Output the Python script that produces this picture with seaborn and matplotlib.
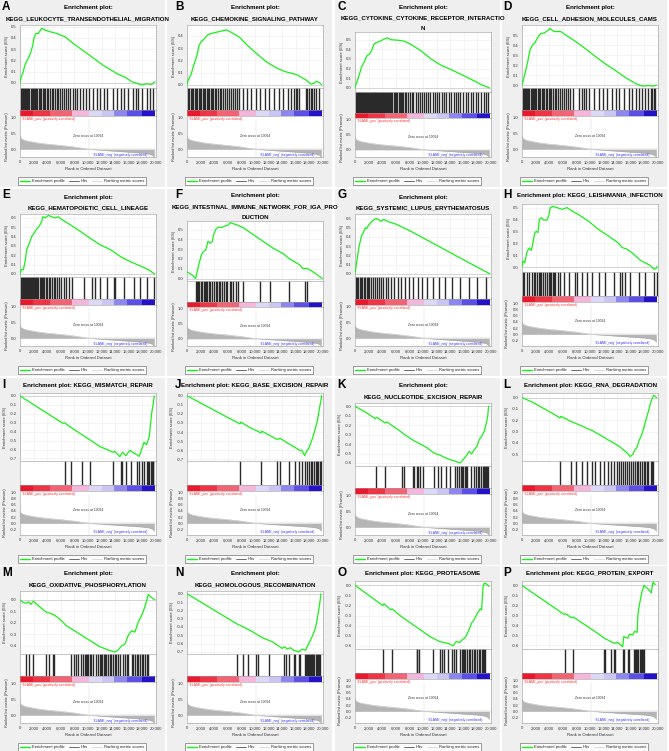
import matplotlib
matplotlib.use('Agg')
import matplotlib.pyplot as plt
from matplotlib.lines import Line2D
from matplotlib.patches import Rectangle
import seaborn as sns

sns.set_theme(style='white')
plt.rcParams['font.family'] = ['Liberation Sans', 'DejaVu Sans']

# ---------------- data (ranks in thousands) ----------------
X_TICKS = [0, 2, 4, 6, 8, 10, 12, 14, 16, 18, 20]
X_TICK_LABELS = ['0', '2,000', '4,000', '6,000', '8,000', '10,000', '12,000',
                 '14,000', '16,000', '18,000', '20,000']

RANK_K = [0, 0.05, 0.3, 0.8, 1.5, 2.5, 4, 6, 8, 10.094, 12, 14, 16, 18, 19, 19.5, 19.75]
RANK_METRIC = [0.42, 0.36, 0.31, 0.27, 0.24, 0.20, 0.16, 0.12, 0.07, 0.0, -0.03,
               -0.06, -0.09, -0.12, -0.15, -0.19, -0.26]
ZERO_CROSS_K = 10.094

BAND_EDGES_K = [0, 1.9, 4.4, 7.6, 10.2, 12.0, 13.8, 15.8, 18.0, 19.8]
BAND_COLORS = ['#e8192c', '#ee3545', '#f26474', '#f5b6dc', '#dcd9f6', '#c9c6f3',
               '#8c86ee', '#5a50e6', '#2412c8']

A_RANK = [0, 0.15, 0.39, 0.74, 1.23, 1.57, 1.86, 2.06, 2.35, 2.7, 3.19, 3.68, 4.41, 5.39,
          6.62, 7.84, 9.31, 10.78, 12.25, 13.48, 14.46, 15.44, 16.42, 17.15, 17.89, 18.62,
          19.36, 19.85]
A_ES = [0, 0.05, 0.08, 0.16, 0.22, 0.27, 0.33, 0.40, 0.44, 0.44, 0.485, 0.47, 0.455, 0.44,
        0.41, 0.35, 0.285, 0.22, 0.155, 0.11, 0.075, 0.05, 0.01, -0.005, -0.02, -0.01,
        -0.015, 0.01]
A_HITS = [0.1, 0.25, 0.39, 0.59, 0.74, 0.88, 1.08, 1.23, 1.37, 1.57, 1.76, 1.91, 2.06, 2.21,
          2.35, 2.55, 2.75, 2.94, 3.14, 3.33, 3.53, 3.73, 3.92, 4.17, 4.41, 4.66, 4.9, 5.15,
          5.39, 5.64, 5.88, 6.18, 6.47, 6.76, 7.06, 7.35, 7.75, 8.14, 8.43, 8.82, 9.22, 9.71,
          10.2, 10.69, 11.27, 11.76, 12.35, 12.84, 13.63, 14.22, 14.8, 15.29, 15.93, 16.67,
          17.06, 17.4, 17.89, 18.63, 19.12, 19.61]

B_RANK = [0, 0.2, 0.63, 0.88, 1.17, 1.46, 1.76, 2.05, 2.34, 2.73, 3.07, 3.56, 4.29, 5.02,
          5.76, 6.49, 7.71, 8.93, 10.15, 11.61, 13.07, 14.29, 15.27, 16.24, 17.46, 18.2,
          18.68, 19.02, 19.51, 19.8]
B_ES = [0, 0.04, 0.09, 0.14, 0.19, 0.24, 0.32, 0.35, 0.365, 0.39, 0.41, 0.42, 0.43, 0.44,
        0.45, 0.43, 0.39, 0.32, 0.26, 0.19, 0.14, 0.11, 0.095, 0.08, 0.04, 0.005, 0.012,
        0.028, 0.015, 0.0]
B_HITS = [0.15, 0.34, 0.54, 0.73, 0.93, 1.12, 1.32, 1.51, 1.71, 1.9, 2.1, 2.29, 2.49, 2.68,
          2.88, 3.07, 3.27, 3.46, 3.66, 3.85, 4.05, 4.29, 4.54, 4.78, 5.02, 5.27, 5.56, 5.85,
          6.15, 6.44, 6.73, 7.02, 7.32, 7.61, 8.2, 8.78, 9.41, 10.15, 10.73, 11.51, 12.1,
          12.83, 13.46, 14.15, 14.78, 15.27, 15.76, 16.0, 16.24, 16.49, 17.46, 17.71, 17.95,
          18.2, 18.44, 18.68, 18.93, 19.41]

C_RANK = [0, 0.15, 0.29, 0.64, 0.98, 1.37, 1.76, 2.11, 2.45, 2.75, 3.09, 3.58, 4.22, 4.8,
          5.29, 6.27, 7.25, 8.24, 9.71, 11.18, 12.65, 14.12, 15.59, 17.06, 18.53, 19.75]
C_ES = [0, 0.04, 0.06, 0.14, 0.22, 0.27, 0.335, 0.35, 0.385, 0.45, 0.47, 0.48, 0.505, 0.52,
        0.50, 0.495, 0.485, 0.45, 0.385, 0.30, 0.235, 0.19, 0.14, 0.09, 0.035, 0.0]
C_HITS = [0.1, 0.25, 0.4, 0.5, 0.65, 0.8, 0.95, 1.05, 1.2, 1.35, 1.5, 1.6, 1.75, 1.9, 2.05,
          2.2, 2.3, 2.45, 2.6, 2.75, 2.9, 3.0, 3.15, 3.3, 3.45, 3.6, 3.7, 3.85, 4.0, 4.15,
          4.3, 4.45, 4.6, 4.75, 4.9, 5.05, 5.2, 5.35, 5.5, 5.7, 5.85, 6.0, 6.2, 6.4, 6.55,
          6.7, 6.9, 7.1, 7.3, 7.5, 7.8, 8.1, 8.4, 8.6, 8.9, 9.2, 9.5, 9.9, 10.2, 10.5, 10.8,
          11.1, 11.4, 11.8, 12.1, 12.4, 12.8, 13.1, 13.4, 13.8, 14.1, 14.5, 14.8, 15.2, 15.5,
          15.9, 16.3, 16.6, 17.0, 17.4, 17.8, 18.1, 18.5, 18.9, 19.2, 19.5]

D_RANK = [0, 0.2, 0.49, 0.83, 1.17, 1.56, 1.95, 2.44, 2.78, 3.27, 3.9, 4.1, 4.7, 5.7, 6.4,
          7.9, 9.4, 10.8, 12.3, 13.75, 15.2, 16.7, 17.7, 18.6, 19.35, 19.8]
D_ES = [0, 0.05, 0.13, 0.23, 0.35, 0.40, 0.43, 0.49, 0.515, 0.52, 0.55, 0.565, 0.535, 0.535,
        0.50, 0.435, 0.36, 0.285, 0.21, 0.145, 0.075, 0.015, -0.01, -0.005, -0.01, 0.0]
D_HITS = [0.1, 0.3, 0.45, 0.6, 0.8, 0.95, 1.1, 1.3, 1.45, 1.6, 1.8, 1.95, 2.1, 2.3, 2.5, 2.7,
          2.9, 3.1, 3.3, 3.5, 3.7, 3.9, 4.1, 4.3, 4.55, 4.8, 5.0, 5.3, 5.6, 5.9, 6.2, 6.5,
          6.8, 7.1, 7.5, 8.4, 8.8, 9.1, 9.4, 9.85, 10.6, 11.3, 11.9, 12.5, 13.3, 13.8, 14.2,
          15.0, 15.7, 16.2, 16.7, 17.2, 17.7, 18.1, 18.5, 18.9, 19.1, 19.4, 19.6]

E_RANK = [0, 0.2, 0.5, 0.74, 0.99, 1.38, 1.72, 2.07, 2.46, 2.86, 3.2, 3.35, 3.69, 4.19,
          4.68, 5.17, 5.66, 6.16, 7.39, 8.87, 10.34, 11.82, 13.3, 14.78, 16.26, 17.73,
          18.96, 19.8]
E_ES = [0, 0.05, 0.045, 0.13, 0.26, 0.33, 0.40, 0.435, 0.48, 0.515, 0.56, 0.61, 0.60, 0.625,
        0.61, 0.60, 0.61, 0.58, 0.525, 0.455, 0.38, 0.31, 0.26, 0.185, 0.13, 0.085, 0.043, 0.0]
E_HITS = [0.1, 0.25, 0.4, 0.55, 0.7, 0.85, 1.0, 1.15, 1.3, 1.45, 1.6, 1.75, 1.9, 2.05, 2.2,
          2.4, 2.55, 2.7, 2.9, 3.05, 3.2, 3.4, 3.6, 3.8, 4.0, 4.2, 4.45, 4.7, 4.95, 5.2, 5.5,
          5.8, 6.1, 6.4, 6.8, 7.2, 7.6, 9.4, 10.6, 11.1, 11.8, 12.8, 13.8, 14.0, 15.3, 16.7,
          17.7, 18.7, 19.7]

F_RANK = [0, 0.78, 1.27, 1.47, 1.76, 2.11, 2.35, 2.75, 3.09, 3.43, 3.73, 3.92, 4.22, 4.56,
          5.05, 5.54, 6.03, 6.37, 6.76, 7.25, 8.24, 9.7, 11.18, 12.65, 14.12, 15.1, 16.57,
          17.06, 17.55, 18.04, 19.02, 19.9]
F_ES = [0.07, 0.035, 0.0, 0.063, 0.15, 0.24, 0.27, 0.29, 0.38, 0.36, 0.38, 0.45, 0.50, 0.525,
        0.52, 0.535, 0.545, 0.57, 0.56, 0.55, 0.52, 0.45, 0.38, 0.31, 0.255, 0.20, 0.14,
        0.10, 0.105, 0.09, 0.045, 0.0]
F_HITS = [1.27, 1.47, 1.62, 1.76, 2.11, 2.25, 2.45, 2.65, 2.84, 2.94, 3.24, 3.43, 3.73, 3.92,
          4.22, 4.41, 4.71, 4.9, 5.2, 5.39, 5.69, 5.88, 6.27, 6.52, 6.76, 7.16, 7.5, 8.24,
          10.69, 12.16, 15.0, 17.3, 17.65]

G_RANK = [0, 0.3, 0.6, 1.0, 1.2, 1.5, 1.7, 2.0, 2.5, 3.0, 3.5, 3.8, 4.2, 4.5, 5.0, 6.0, 8.0,
          10.0, 12.0, 14.0, 16.0, 18.0, 19.8]
G_ES = [0, 0.15, 0.30, 0.42, 0.44, 0.50, 0.49, 0.53, 0.57, 0.60, 0.59, 0.57, 0.59, 0.58,
        0.565, 0.54, 0.47, 0.39, 0.31, 0.23, 0.15, 0.07, 0.0]
G_HITS = [0.1, 0.3, 0.5, 0.7, 0.9, 1.1, 1.3, 1.5, 1.7, 1.9, 2.1, 2.3, 2.6, 2.9, 3.2, 3.5, 3.8,
          4.1, 4.5, 4.9, 5.3, 5.8, 6.3, 6.8, 7.3, 7.9, 8.5, 9.2, 9.8, 10.6, 11.5, 12.3, 13.2,
          14.3, 15.5, 16.8, 18.0, 19.2]

H_RANK = [0, 0.15, 0.4, 0.74, 1.08, 1.37, 1.62, 1.86, 2.1, 2.35, 2.55, 2.84, 3.19, 3.68,
          3.92, 4.17, 4.51, 5.15, 5.88, 6.62, 7.11, 8.33, 9.8, 11.27, 12.75, 14.22, 14.7,
          15.44, 16.18, 17.4, 18.14, 18.87, 19.36, 19.7, 19.9]
H_ES = [0, 0.05, 0.035, 0.13, 0.16, 0.14, 0.205, 0.285, 0.30, 0.29, 0.40, 0.415, 0.395,
        0.395, 0.43, 0.50, 0.51, 0.50, 0.485, 0.50, 0.48, 0.44, 0.385, 0.315, 0.26, 0.20,
        0.165, 0.15, 0.12, 0.057, 0.034, 0.014, -0.017, -0.014, 0.005]
H_HITS = [0.1, 0.25, 0.74, 0.98, 1.47, 1.72, 1.96, 2.21, 2.45, 2.7, 2.84, 3.04, 3.43, 3.68,
          3.92, 4.17, 4.31, 4.51, 4.66, 4.9, 5.29, 5.64, 6.13, 6.86, 7.84, 8.09, 8.82, 9.56,
          10.29, 11.27, 12.25, 13.48, 14.46, 14.71, 15.2, 15.93, 17.16, 18.14, 19.36, 19.85]

I_RANK = [0, 6.3, 6.55, 7.54, 8.77, 10.25, 11.72, 13.69, 13.94, 14.68, 15.07, 15.57, 16.16,
          16.9, 17.54, 17.88, 18.23, 18.62, 19.01, 19.36, 19.6, 19.75]
I_ES = [0, -0.306, -0.30, -0.355, -0.417, -0.49, -0.565, -0.63, -0.62, -0.68, -0.63, -0.668,
        -0.61, -0.645, -0.675, -0.60, -0.52, -0.545, -0.454, -0.195, -0.085, 0.0]
I_HITS = [6.55, 7.54, 9.16, 10.25, 13.69, 14.78, 14.93, 15.57, 16.26, 17.24, 17.54, 17.88,
          18.23, 18.62, 18.87, 19.01, 19.21, 19.36, 19.51, 19.6]

J_RANK = [0, 2, 4, 6, 7.8, 7.9, 9, 10.9, 11.0, 12, 13.2, 13.7, 15, 15.9, 16.5, 16.9, 17.3,
          17.6, 17.9, 18.2, 18.5, 18.8, 19.1, 19.3, 19.5, 19.7, 19.8]
J_ES = [0, -0.08, -0.16, -0.24, -0.31, -0.29, -0.34, -0.41, -0.39, -0.43, -0.48, -0.47, -0.53,
        -0.57, -0.60, -0.60, -0.66, -0.61, -0.58, -0.52, -0.46, -0.38, -0.30, -0.22, -0.13,
        -0.05, 0.0]
J_HITS = [7.8, 10.9, 13.2, 13.7, 15.0, 15.9, 16.5, 16.9, 17.3, 17.6, 17.9, 18.2, 18.4, 18.7,
          18.9, 19.1, 19.3, 19.5, 19.7]

K_RANK = [0, 1.73, 2.96, 3.21, 4.44, 4.69, 6.67, 7.16, 8.64, 9.63, 10.62, 11.6, 12.59, 13.58,
          14.81, 15.46, 15.8, 16.3, 16.79, 17.14, 17.53, 17.93, 18.27, 18.62, 19.01, 19.31,
          19.51, 19.65]
K_ES = [0, -0.07, -0.13, -0.117, -0.177, -0.166, -0.265, -0.293, -0.364, -0.40, -0.44,
        -0.495, -0.52, -0.555, -0.583, -0.60, -0.575, -0.53, -0.477, -0.505, -0.46, -0.424,
        -0.353, -0.318, -0.265, -0.177, -0.106, 0.0]
K_HITS = [3.11, 4.44, 6.91, 7.16, 8.54, 8.74, 9.14, 9.23, 9.53, 10.02, 11.6, 12.2, 12.59,
          13.33, 13.98, 14.67, 14.96, 15.31, 15.56, 15.8, 15.95, 16.15, 16.35, 16.54, 17.04,
          17.53, 17.78, 18.02, 18.27, 18.52, 18.77, 19.01, 19.16, 19.26, 19.41, 19.6]

L_RANK = [0, 1.5, 3, 4.5, 5.6, 5.7, 7.2, 8.0, 8.8, 9.5, 10.3, 11.5, 12.6, 13.5, 14.3, 14.9,
          15.5, 15.9, 16.3, 16.6, 16.9, 17.2, 17.6, 17.9, 18.2, 18.6, 18.9, 19.2, 19.4, 19.8]
L_ES = [0, -0.04, -0.09, -0.14, -0.18, -0.165, -0.21, -0.23, -0.25, -0.27, -0.29, -0.33,
        -0.37, -0.40, -0.43, -0.46, -0.49, -0.52, -0.50, -0.46, -0.44, -0.38, -0.33, -0.27,
        -0.20, -0.12, -0.05, 0.0, 0.02, 0.0]
L_HITS = [5.6, 7.2, 8.0, 8.8, 9.5, 10.3, 10.8, 11.5, 12.0, 12.6, 13.1, 13.5, 13.9, 14.3, 14.6,
          14.9, 15.2, 15.5, 15.8, 16.0, 16.3, 16.6, 16.9, 17.1, 17.4, 17.6, 17.9, 18.1, 18.4,
          18.6, 18.9, 19.1, 19.3]

M_RANK = [0, 0.49, 0.89, 1.28, 1.62, 1.97, 2.86, 3.84, 4.58, 5.22, 5.81, 6.8, 8.77, 10.74,
          11.72, 12.96, 13.94, 14.43, 14.93, 15.42, 15.91, 16.4, 16.9, 17.39, 17.88, 18.37,
          18.87, 19.36, 19.85]
M_ES = [0, -0.024, -0.03, -0.018, -0.04, -0.012, -0.06, -0.106, -0.12, -0.14, -0.165, -0.224,
        -0.297, -0.37, -0.406, -0.435, -0.453, -0.435, -0.40, -0.385, -0.31, -0.268, -0.28,
        -0.194, -0.135, -0.062, 0.047, 0.018, 0.0]
M_HITS = [0.89, 1.28, 1.87, 3.84, 4.33, 4.83, 5.07, 7.54, 7.88, 8.28, 8.52, 9.01, 9.26, 9.51,
          9.66, 9.85, 10.0, 10.25, 10.49, 10.74, 11.23, 11.48, 11.72, 11.97, 12.12, 12.32,
          12.46, 12.71, 12.96, 13.2, 13.45, 13.69, 13.94, 14.19, 14.43, 14.68, 15.17, 15.42,
          15.67, 15.91, 16.4, 16.65, 16.9, 17.14, 17.39, 17.64, 17.88, 18.13, 18.37, 18.62,
          18.87]

N_RANK = [0, 7.31, 8.05, 9.53, 11.01, 12.49, 13.98, 14.37, 14.72, 15.21, 15.7, 16.44, 16.94,
          17.43, 17.93, 18.42, 18.81, 19.06, 19.26, 19.51, 19.7]
N_ES = [0, -0.362, -0.39, -0.453, -0.527, -0.576, -0.658, -0.638, -0.667, -0.65, -0.68, -0.70,
        -0.667, -0.68, -0.597, -0.514, -0.432, -0.35, -0.247, -0.123, 0.0]
N_HITS = [7.31, 8.3, 8.94, 10.12, 10.42, 12.1, 14.22, 14.57, 14.96, 15.7, 15.95, 16.44, 16.69,
          17.33, 17.53, 17.68, 17.83, 17.93, 18.07, 18.17, 18.32, 18.42, 18.57, 18.72, 18.91,
          19.06, 19.26, 19.41, 19.6]

O_RANK = [0, 4.08, 4.28, 5.26, 5.45, 6.63, 9.09, 11.06, 12.43, 13.02, 13.76, 14.4, 14.89,
          15.38, 15.72, 16.22, 16.71, 17.2, 17.44, 17.69, 17.94, 18.43, 18.62, 18.82, 19.02,
          19.41, 19.71]
O_ES = [0, -0.2, -0.183, -0.243, -0.233, -0.30, -0.417, -0.51, -0.557, -0.567, -0.577, -0.60,
        -0.557, -0.567, -0.543, -0.517, -0.45, -0.367, -0.35, -0.317, -0.283, -0.233, -0.243,
        -0.017, 0.023, 0.01, -0.01]
O_HITS = [4.18, 5.41, 9.09, 9.19, 9.34, 11.45, 12.43, 12.78, 13.02, 13.61, 14.25, 14.6, 14.89,
          15.48, 15.72, 15.87, 16.07, 16.22, 16.46, 16.71, 16.95, 17.2, 17.44, 17.69, 17.94,
          18.18, 18.43, 18.67, 18.77, 18.92, 19.16]

P_RANK = [0, 6.17, 6.42, 7.26, 7.56, 11.11, 12.1, 13.09, 13.58, 14.07, 14.81, 14.96, 15.56,
          15.8, 16.3, 16.54, 16.94, 17.04, 17.28, 17.63, 17.93, 18.52, 19.01, 19.26, 19.6]
P_ES = [0, -0.29, -0.284, -0.325, -0.318, -0.48, -0.53, -0.565, -0.582, -0.572, -0.616,
        -0.514, -0.53, -0.49, -0.497, -0.462, -0.47, -0.29, -0.188, -0.068, 0.0, -0.034,
        -0.075, 0.034, 0.01]
P_HITS = [6.27, 7.56, 12.1, 12.2, 13.09, 13.58, 13.68, 14.81, 14.96, 15.65, 15.8, 16.54,
          16.64, 16.79, 16.94, 17.04, 17.28, 17.43, 17.63, 17.78, 17.88]

POS = [0.0, 0.1, 0.2, 0.3, 0.4, 0.5, 0.6]
NEG = [0.0, -0.1, -0.2, -0.3, -0.4, -0.5, -0.6, -0.7]
RANK_TICKS_COARSE = [1.0, 0.5, 0.0]
RANK_TICKS_FINE = [1.0, 0.8, 0.6, 0.4, 0.2, 0.0, -0.2]

PANELS = [
    ('A', ['Enrichment plot:', 'KEGG_LEUKOCYTE_TRANSENDOTHELIAL_MIGRATION'], A_RANK, A_ES, A_HITS, POS[:6], (-0.05, 0.515), False),
    ('B', ['Enrichment plot:', 'KEGG_CHEMOKINE_SIGNALING_PATHWAY'], B_RANK, B_ES, B_HITS, POS[:5], (-0.03, 0.49), False),
    ('C', ['Enrichment plot:', 'KEGG_CYTOKINE_CYTOKINE_RECEPTOR_INTERACTIO', 'N'], C_RANK, C_ES, C_HITS, POS[:6], (-0.043, 0.58), False),
    ('D', ['Enrichment plot:', 'KEGG_CELL_ADHESION_MOLECULES_CAMS'], D_RANK, D_ES, D_HITS, POS[:6], (-0.033, 0.60), False),
    ('E', ['Enrichment plot:', 'KEGG_HEMATOPOIETIC_CELL_LINEAGE'], E_RANK, E_ES, E_HITS, POS[:7], (-0.036, 0.64), False),
    ('F', ['Enrichment plot:', 'KEGG_INTESTINAL_IMMUNE_NETWORK_FOR_IGA_PRO', 'DUCTION'], F_RANK, F_ES, F_HITS, POS[:6], (-0.025, 0.587), False),
    ('G', ['Enrichment plot:', 'KEGG_SYSTEMIC_LUPUS_ERYTHEMATOSUS'], G_RANK, G_ES, G_HITS, POS[:7], (-0.04, 0.65), False),
    ('H', ['Enrichment plot: KEGG_LEISHMANIA_INFECTION'], H_RANK, H_ES, H_HITS, POS[:6], (-0.043, 0.53), True),
    ('I', ['Enrichment plot: KEGG_MISMATCH_REPAIR'], I_RANK, I_ES, I_HITS, NEG, (-0.73, 0.033), True),
    ('J', ['Enrichment plot: KEGG_BASE_EXCISION_REPAIR'], J_RANK, J_ES, J_HITS, NEG, (-0.72, 0.03), True),
    ('K', ['Enrichment plot:', 'KEGG_NUCLEOTIDE_EXCISION_REPAIR'], K_RANK, K_ES, K_HITS, NEG[:7], (-0.636, 0.035), False),
    ('L', ['Enrichment plot: KEGG_RNA_DEGRADATION'], L_RANK, L_ES, L_HITS, NEG[:6], (-0.56, 0.04), True),
    ('M', ['Enrichment plot:', 'KEGG_OXIDATIVE_PHOSPHORYLATION'], M_RANK, M_ES, M_HITS, NEG[:5], (-0.473, 0.076), False),
    ('N', ['Enrichment plot:', 'KEGG_HOMOLOGOUS_RECOMBINATION'], N_RANK, N_ES, N_HITS, NEG, (-0.73, 0.033), False),
    ('O', ['Enrichment plot: KEGG_PROTEASOME'], O_RANK, O_ES, O_HITS, NEG[:7], (-0.633, 0.043), True),
    ('P', ['Enrichment plot: KEGG_PROTEIN_EXPORT'], P_RANK, P_ES, P_HITS, NEG[:7], (-0.64, 0.045), True),
]

# ---------------- layout ----------------
W, H = 669, 751
fig = plt.figure(figsize=(W / 100, H / 100), dpi=100)
fig.patch.set_facecolor('white')

COL_X = [0, 167, 335, 502]
ROW_Y = [0, 189, 378, 566]
LETTER_DX = [2, 8, 2, 1]
PLOT_TOP = {1: 15, 2: 25, 3: 32}
TITLE_Y = {1: [7], 2: [8, 18.5], 3: [7, 18, 28.5]}
PLOT_BOTTOM = 157
AX_L, AX_W = 20, 136

GREEN = '#19f019'
SPINE = '#9a9a9a'
TICK_FS = 3.0


def px_ax(x, y, w, h):
    return fig.add_axes([x / W, 1 - (y + h) / H, w / W, h / H])


def style(ax):
    for s in ax.spines.values():
        s.set_color(SPINE)
        s.set_linewidth(0.4)
    ax.tick_params(labelsize=TICK_FS, length=1.5, width=0.3, pad=1, colors='#333333')


for i, (letter, title, es_x, es_y, hits, yticks, ylim, fine) in enumerate(PANELS):
    r, c = divmod(i, 4)
    cx, ry = COL_X[c], ROW_Y[r]
    fig.add_artist(Rectangle((cx / W, 1 - (ry + 187) / H), 165 / W, 187 / H,
                             transform=fig.transFigure, facecolor='#efefef',
                             edgecolor='none', zorder=-10))
    fig.text((cx + LETTER_DX[c]) / W, 1 - (ry + 0.5) / H, letter, ha='left', va='top',
             fontsize=8.5, weight='bold', color='black')
    n = len(title)
    for line, ty in zip(title, TITLE_Y[n]):
        fig.text((cx + AX_L + AX_W / 2) / W, 1 - (ry + ty) / H, line, ha='center',
                 va='center', fontsize=4.4, weight='bold', color='black')

    top = PLOT_TOP[n]
    T = PLOT_BOTTOM - top
    h_es, h_hit, h_cb = 0.48 * T, 0.165 * T, 0.045 * T
    h_rk = T - h_es - h_hit - h_cb
    x0 = cx + AX_L
    y_es = ry + top
    ax_es = px_ax(x0, y_es, AX_W, h_es)
    ax_hit = px_ax(x0, y_es + h_es, AX_W, h_hit)
    ax_cb = px_ax(x0, y_es + h_es + h_hit, AX_W, h_cb)
    ax_rk = px_ax(x0, y_es + h_es + h_hit + h_cb, AX_W, h_rk)

    # enrichment score
    ax_es.set_facecolor('white')
    ax_es.grid(True, color='#ececec', lw=0.4)
    ax_es.axhline(0, color='#c8c8c8', lw=0.5, zorder=1)
    sns.lineplot(x=es_x, y=es_y, ax=ax_es, color=GREEN, lw=0.9, sort=False, zorder=3)
    ax_es.set_xlim(0, 20)
    ax_es.set_ylim(*ylim)
    ax_es.set_xticks(X_TICKS)
    ax_es.set_xticklabels([])
    ax_es.tick_params(axis='x', length=0)
    ax_es.set_yticks(yticks)
    ax_es.set_yticklabels([f'{v:.1f}' for v in yticks])
    ax_es.set_ylabel('Enrichment score (ES)', fontsize=3, labelpad=1.5, color='#333333')
    ax_es.set_xlabel('')
    style(ax_es)

    # hits
    ax_hit.set_facecolor('white')
    sns.rugplot(x=hits, ax=ax_hit, height=1, color='#2a2a2a', lw=0.33, expand_margins=False)
    ax_hit.set_xlim(0, 20)
    ax_hit.set_ylim(0, 1)
    ax_hit.set_xticks([])
    ax_hit.set_yticks([])
    ax_hit.set_xlabel('')
    style(ax_hit)

    # colour bar
    for a, b, col in zip(BAND_EDGES_K[:-1], BAND_EDGES_K[1:], BAND_COLORS):
        ax_cb.axvspan(a, b, color=col, lw=0)
    ax_cb.set_xlim(0, 20)
    ax_cb.set_ylim(0, 1)
    ax_cb.set_xticks([])
    ax_cb.set_yticks([])
    ax_cb.set_facecolor('white')
    style(ax_cb)

    # ranked list metric
    ax_rk.set_facecolor('white')
    ax_rk.fill_between(RANK_K, RANK_METRIC, 0, color='#b5b5b5', lw=0)
    sns.lineplot(x=RANK_K, y=RANK_METRIC, ax=ax_rk, color='#a8a8a8', lw=0.3)
    ax_rk.axhline(0, color='#bdbdbd', lw=0.3)
    ax_rk.axvline(ZERO_CROSS_K, ymin=0, ymax=0.92, color='#cfcfcf', lw=0.3)
    ax_rk.set_xlim(0, 20)
    if fine:
        ax_rk.set_ylim(-0.38, 1.05)
        rt = RANK_TICKS_FINE
        neg_y = -0.28
    else:
        ax_rk.set_ylim(-0.24, 1.03)
        rt = RANK_TICKS_COARSE
        neg_y = -0.17
    ax_rk.set_yticks(rt)
    ax_rk.set_yticklabels([f'{v:.1f}' for v in rt])
    ax_rk.set_xticks(X_TICKS)
    ax_rk.set_xticklabels(X_TICK_LABELS)
    ax_rk.set_xlabel('Rank in Ordered Dataset', fontsize=3.1, labelpad=1.5, color='#333333')
    ax_rk.set_ylabel('Ranked list metric (Pearson)', fontsize=2.8, labelpad=1.5, color='#333333')
    ax_rk.text(0.012, 0.985, "'ELANE_pos' (positively correlated)", fontsize=2.4,
               color='#ff2a2a', ha='left', va='top', transform=ax_rk.transAxes)
    ax_rk.text(ZERO_CROSS_K - 0.1, 0.42, 'Zero cross at 10094', fontsize=2.4,
               color='#333333', ha='center', va='center')
    ax_rk.text(14.8, neg_y, "'ELANE_neg' (negatively correlated)", fontsize=2.4,
               color='#3030ff', ha='center', va='center')
    style(ax_rk)

    # legend
    handles = [Line2D([], [], color=GREEN, lw=1.0),
               Line2D([], [], color='#333333', lw=0.5),
               Line2D([], [], color='#d0d0d0', lw=0.5)]
    leg = fig.legend(handles, ['Enrichment profile', 'Hits', 'Ranking metric scores'],
                     loc='center', bbox_to_anchor=((cx + 82) / W, 1 - (ry + 181) / H),
                     ncol=3, fontsize=3, frameon=True, fancybox=False,
                     edgecolor='#555555', facecolor='white', handlelength=2.4,
                     handletextpad=0.5, columnspacing=0.9, borderpad=0.5)
    leg.get_frame().set_linewidth(0.5)

fig.savefig('out.png', dpi=100, facecolor='white')
